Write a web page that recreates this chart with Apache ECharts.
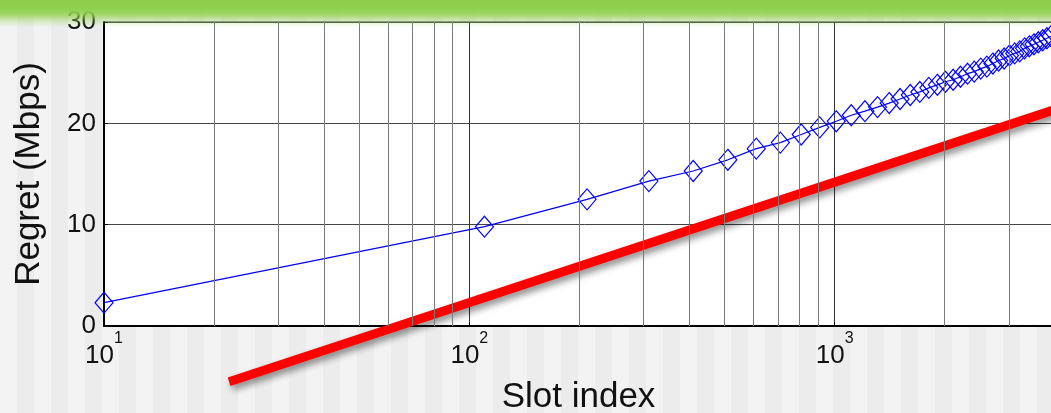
<!DOCTYPE html>
<html>
<head>
<meta charset="utf-8">
<script src="https://cdn.jsdelivr.net/npm/echarts@6/dist/echarts.min.js"></script>
<style>
  html, body { margin: 0; padding: 0; }
  body {
    width: 1051px; height: 413px; overflow: hidden; position: relative;
    background: repeating-linear-gradient(90deg, #f3f3f3 0px, #f3f3f3 17px, #ececec 17px, #ececec 34px);
  }
  #chart { position: absolute; left: 0; top: 0; width: 1090px; height: 413px; }
  #band {
    position: absolute; left: 0; top: 0; width: 1051px; height: 27px; pointer-events: none;
    background: linear-gradient(to bottom, rgba(140,204,74,1) 0px, rgba(146,208,80,1) 10px, rgba(146,208,80,0.8) 15px, rgba(146,208,80,0.3) 21px, rgba(146,208,80,0) 27px);
  }
</style>
</head>
<body>
<div id="chart"></div>
<div id="band"></div>
<script>
// ---- data ----
const slotIndex = [10, 110, 210, 310, 410, 510, 610, 710, 810, 910,
                   1010, 1110, 1210, 1310, 1410, 1510, 1610, 1710, 1810, 1910,
                   2010, 2110, 2210, 2310, 2410, 2510, 2610, 2710, 2810, 2910,
                   3010, 3110, 3210, 3310, 3410, 3510, 3610, 3710, 3810, 3910];
const regret = [2.3, 9.8, 12.5, 14.3, 15.3, 16.4, 17.5, 18.1, 18.9, 19.6,
                20.2, 20.8, 21.2, 21.6, 22.0, 22.4, 22.8, 23.1, 23.5, 23.8,
                24.1, 24.3, 24.6, 24.9, 25.1, 25.4, 25.6, 25.9, 26.2, 26.4,
                26.7, 26.9, 27.1, 27.4, 27.6, 27.8, 28.0, 28.2, 28.4, 28.6];
const trendX = [22, 4200];
const trendY = [-5.5, 21.6];
const xMinorGrid = [20, 30, 40, 50, 60, 70, 80, 90, 200, 300, 400, 500, 600, 700, 800, 900, 2000, 3000, 4000];
const yTicks = [0, 10, 20, 30];
const xLabelExponents = [1, 2, 3];

const FONT = '"Liberation Sans", Arial, Helvetica, sans-serif';
const chart = echarts.init(document.getElementById('chart'), null, { renderer: 'canvas' });

const option = {
  animation: false,
  backgroundColor: 'transparent',
  grid: {
    left: 104, top: 22, width: 961, bottom: 87,
    outerBoundsMode: 'none', containLabel: false,
    show: true, backgroundColor: '#ffffff', borderColor: '#222', borderWidth: 1
  },
  xAxis: {
    type: 'log', logBase: 10, min: 10, max: 4270,
    name: 'Slot index', nameLocation: 'middle', nameGap: 54,
    nameTextStyle: { fontFamily: FONT, fontSize: 35, color: '#111', padding: [0, 12, 0, 0] },
    axisLine: { show: true, onZero: false, lineStyle: { color: '#000', width: 2 } },
    axisTick: { show: true, inside: true, length: 4, lineStyle: { color: '#000' } },
    splitLine: { show: true, lineStyle: { color: '#333', width: 1 } },
    axisLabel: {
      margin: 5,
      formatter: function (v) {
        const e = Math.round(Math.log10(v));
        if (Math.abs(Math.log10(v) - e) > 1e-6 || xLabelExponents.indexOf(e) < 0) return '';
        return '{b|10}{s|' + e + '}';
      },
      rich: {
        b: { fontFamily: FONT, fontSize: 26, lineHeight: 38, color: '#111', verticalAlign: 'bottom' },
        s: { fontFamily: FONT, fontSize: 16, lineHeight: 16, color: '#111', verticalAlign: 'top' }
      }
    }
  },
  yAxis: {
    type: 'value', min: yTicks[0], max: yTicks[yTicks.length - 1], interval: 10,
    name: 'Regret (Mbps)', nameLocation: 'middle', nameGap: 57,
    nameTextStyle: { fontFamily: FONT, fontSize: 35, color: '#111' },
    axisLine: { show: true, lineStyle: { color: '#000', width: 2 } },
    axisTick: { show: true, inside: true, length: 4, lineStyle: { color: '#000' } },
    splitLine: { show: true, lineStyle: { color: '#444', width: 1 } },
    axisLabel: { fontFamily: FONT, fontSize: 26, color: '#111', margin: 8 }
  },
  series: [
    {
      name: 'grid', type: 'line', data: [], silent: true,
      markLine: {
        silent: true, symbol: ['none', 'none'], label: { show: false },
        lineStyle: { color: '#7a7a7a', type: 'solid', width: 1 },
        data: xMinorGrid.map(v => ({ xAxis: v }))
      }
    },
    {
      name: 'Regret', type: 'line',
      data: slotIndex.map((x, i) => [x, regret[i]]),
      symbol: 'diamond', symbolSize: [18, 21], showAllSymbol: true,
      lineStyle: { color: '#0000ff', width: 1.2 },
      itemStyle: { color: 'rgba(0,0,0,0)', borderColor: '#0000ff', borderWidth: 1.2 },
      z: 3
    },
    {
      name: 'trend', type: 'line', clip: false,
      data: trendX.map((x, i) => [x, trendY[i]]),
      symbol: 'none',
      lineStyle: {
        color: '#ff0000', width: 9, cap: 'butt',
        shadowColor: 'rgba(0,0,0,0.45)', shadowBlur: 7, shadowOffsetX: 3, shadowOffsetY: 4
      },
      z: 4
    }
  ]
};
chart.setOption(option);
</script>
</body>
</html>
